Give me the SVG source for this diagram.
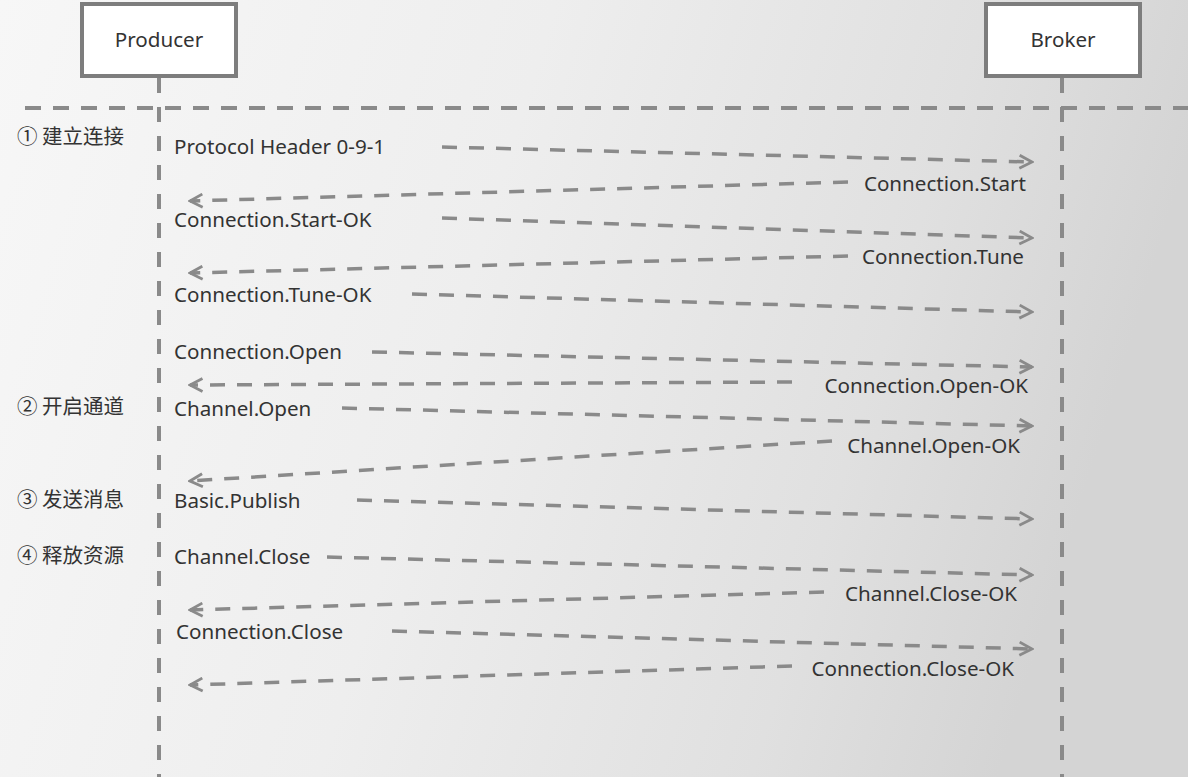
<svg xmlns="http://www.w3.org/2000/svg" width="1188" height="777" viewBox="0 0 1188 777">
<defs>
<linearGradient id="bg" x1="0" y1="0" x2="1" y2="0.2">
<stop offset="0" stop-color="#f7f7f7"/>
<stop offset="0.45" stop-color="#eeeeee"/>
<stop offset="0.8" stop-color="#e0e0e0"/>
<stop offset="1" stop-color="#d4d4d4"/>
</linearGradient>
<marker id="ah" viewBox="0 0 16 16" refX="14" refY="8" markerWidth="16" markerHeight="16" markerUnits="userSpaceOnUse" orient="auto">
<path d="M1.5,1.5 L14,8 L1.5,14.5" fill="none" stroke="#8a8a8a" stroke-width="2.8"/>
</marker>
<style>
.box{fill:#fff;stroke:#7d7d7d;stroke-width:4}
.life{stroke:#8a8a8a;stroke-width:4;stroke-dasharray:15 14;fill:none}
.sep{stroke:#8a8a8a;stroke-width:4;stroke-dasharray:16 12;fill:none}
.msg{stroke:#8a8a8a;stroke-width:3.5;stroke-dasharray:15 12;fill:none;marker-end:url(#ah)}
.t{font-family:"Noto Sans","Liberation Sans",sans-serif;font-size:20.6px;fill:#333}
.r{text-anchor:end}
.c{text-anchor:middle}
.cn{font-family:"Noto Sans CJK SC","Noto Sans",sans-serif;font-size:20.5px;fill:#333}
</style>
</defs>
<rect width="1188" height="777" fill="url(#bg)"/>
<g id="lifelines">
<line class="life" x1="159" y1="78" x2="159" y2="777"/>
<line class="life" x1="1062" y1="78" x2="1062" y2="777"/>
<line class="sep" x1="25" y1="108" x2="1188" y2="108"/>
</g>
<g id="producer">
<rect class="box" x="82" y="4" width="154" height="72"/>
<text class="t c" x="159" y="47">Producer</text>
</g>
<g id="broker">
<rect class="box" x="986" y="4" width="154" height="72"/>
<text class="t c" x="1063" y="47">Broker</text>
</g>
<g id="phases">
<text class="cn" x="17" y="144">① 建立连接</text>
<text class="cn" x="17" y="414">② 开启通道</text>
<text class="cn" x="17" y="507">③ 发送消息</text>
<text class="cn" x="17" y="563">④ 释放资源</text>
</g>
<g id="connectors">
<line class="msg" x1="442" y1="147" x2="1032" y2="162"/>
<line class="msg" x1="848" y1="182" x2="190" y2="201"/>
<line class="msg" x1="442" y1="218" x2="1032" y2="238"/>
<line class="msg" x1="848" y1="256" x2="190" y2="273"/>
<line class="msg" x1="412" y1="294" x2="1032" y2="312"/>
<line class="msg" x1="372" y1="352" x2="1032" y2="367"/>
<line class="msg" x1="792" y1="382" x2="190" y2="385"/>
<line class="msg" x1="342" y1="408" x2="1032" y2="426"/>
<line class="msg" x1="832" y1="441" x2="190" y2="481"/>
<line class="msg" x1="357" y1="500" x2="1032" y2="519"/>
<line class="msg" x1="327" y1="557" x2="1032" y2="575"/>
<line class="msg" x1="824" y1="592" x2="190" y2="610"/>
<line class="msg" x1="392" y1="631" x2="1032" y2="649"/>
<line class="msg" x1="792" y1="666" x2="190" y2="685"/>
</g>
<g id="labels">
<text class="t" x="174" y="154">Protocol Header 0-9-1</text>
<text class="t r" x="1026" y="191">Connection.Start</text>
<text class="t" x="174" y="227">Connection.Start-OK</text>
<text class="t r" x="1024" y="264">Connection.Tune</text>
<text class="t" x="174" y="302">Connection.Tune-OK</text>
<text class="t" x="174" y="359">Connection.Open</text>
<text class="t r" x="1028" y="393">Connection.Open-OK</text>
<text class="t" x="174" y="416">Channel.Open</text>
<text class="t r" x="1020" y="453">Channel.Open-OK</text>
<text class="t" x="174" y="508">Basic.Publish</text>
<text class="t" x="174" y="564">Channel.Close</text>
<text class="t r" x="1017" y="601">Channel.Close-OK</text>
<text class="t" x="176" y="639">Connection.Close</text>
<text class="t r" x="1014" y="676">Connection.Close-OK</text>
</g>
</svg>
